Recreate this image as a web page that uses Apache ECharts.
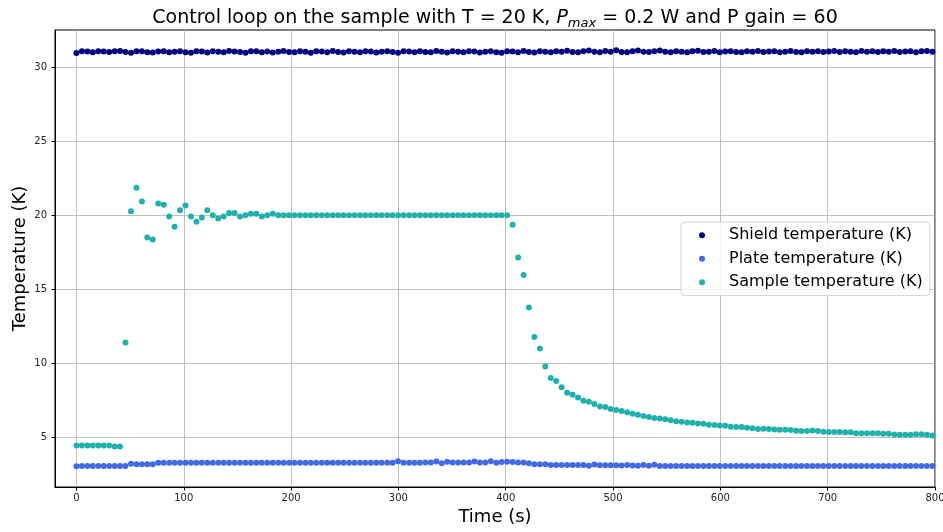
<!DOCTYPE html>
<html>
<head>
<meta charset="utf-8">
<script src="https://cdn.jsdelivr.net/npm/echarts@6/dist/echarts.min.js"></script>
<style>
html,body{margin:0;padding:0;background:#fff;}
#chart{width:943px;height:532px;}
</style>
</head>
<body>
<div id="chart"></div>
<script>
// ---- data ----
const times = [
  0, 5.1, 10.2, 15.2, 20.3, 25.4, 30.5, 35.6, 40.6, 45.7,
  50.8, 55.9, 61.0, 66.0, 71.1, 76.2, 81.3, 86.4, 91.4, 96.5,
  101.6, 106.7, 111.8, 116.8, 121.9, 127.0, 132.1, 137.2, 142.2, 147.3,
  152.4, 157.5, 162.6, 167.6, 172.7, 177.8, 182.9, 188.0, 193.0, 198.1,
  203.2, 208.3, 213.4, 218.4, 223.5, 228.6, 233.7, 238.8, 243.8, 248.9,
  254.0, 259.1, 264.2, 269.2, 274.3, 279.4, 284.5, 289.6, 294.6, 299.7,
  304.8, 309.9, 315.0, 320.0, 325.1, 330.2, 335.3, 340.4, 345.4, 350.5,
  355.6, 360.7, 365.8, 370.8, 375.9, 381.0, 386.1, 391.2, 396.2, 401.3,
  406.4, 411.5, 416.6, 421.6, 426.7, 431.8, 436.9, 442.0, 447.0, 452.1,
  457.2, 462.3, 467.4, 472.4, 477.5, 482.6, 487.7, 492.8, 497.8, 502.9,
  508.0, 513.1, 518.2, 523.2, 528.3, 533.4, 538.5, 543.6, 548.6, 553.7,
  558.8, 563.9, 569.0, 574.0, 579.1, 584.2, 589.3, 594.4, 599.4, 604.5,
  609.6, 614.7, 619.8, 624.8, 629.9, 635.0, 640.1, 645.2, 650.2, 655.3,
  660.4, 665.5, 670.6, 675.6, 680.7, 685.8, 690.9, 696.0, 701.0, 706.1,
  711.2, 716.3, 721.4, 726.4, 731.5, 736.6, 741.7, 746.8, 751.8, 756.9,
  762.0, 767.1, 772.2, 777.2, 782.3, 787.4, 792.5, 797.6
];

const shieldTemp = [
  30.95, 31.07, 31.05, 30.99, 31.07, 31.05, 31.01, 31.07, 31.08, 31.02,
  30.97, 31.07, 31.06, 31.00, 30.98, 31.05, 31.07, 30.99, 31.04, 31.07,
  31.00, 30.97, 31.06, 31.05, 30.98, 31.07, 31.03, 30.99, 31.08, 31.05,
  31.01, 30.97, 31.06, 31.07, 31.00, 31.05, 30.98, 31.04, 31.08, 31.02,
  30.99, 31.06, 31.03, 30.97, 31.07, 31.05, 31.00, 31.08, 31.02, 30.98,
  31.06, 31.04, 30.99, 31.07, 31.05, 30.98, 31.03, 31.07, 31.01, 30.97,
  31.06, 31.05, 30.99, 31.07, 31.02, 31.00, 31.08, 31.04, 30.98, 31.06,
  31.03, 30.99, 31.07, 31.05, 30.98, 31.04, 31.07, 31.00, 30.97, 31.06,
  31.05, 31.00, 31.08, 31.02, 30.98, 31.06, 31.04, 30.99, 31.07, 31.03,
  31.10, 31.01, 30.99, 31.06, 31.12, 31.03, 31.00, 31.08, 31.04, 31.13,
  31.02, 30.99, 31.07, 31.12, 31.03, 31.01, 31.06, 31.11, 31.04, 31.00,
  31.07, 31.03, 30.99, 31.06, 31.10, 31.02, 31.04, 31.08, 31.00, 31.05,
  31.07, 31.02, 30.99, 31.06, 31.04, 31.09, 31.01, 31.05, 31.07, 31.00,
  31.04, 31.08, 31.02, 30.99, 31.06, 31.03, 31.07, 31.01, 31.05, 31.09,
  31.02, 31.06, 31.04, 30.99, 31.08, 31.03, 31.06, 31.01, 31.07, 31.04,
  31.09, 31.02, 31.05, 31.07, 31.00, 31.06, 31.08, 31.03
];

const plateTemp = [
  3.05, 3.07, 3.07, 3.07, 3.07, 3.07, 3.07, 3.07, 3.07, 3.07,
  3.22, 3.19, 3.19, 3.19, 3.19, 3.29, 3.29, 3.29, 3.29, 3.29,
  3.29, 3.29, 3.29, 3.29, 3.29, 3.29, 3.29, 3.29, 3.29, 3.29,
  3.29, 3.29, 3.29, 3.29, 3.29, 3.29, 3.29, 3.29, 3.29, 3.29,
  3.29, 3.29, 3.29, 3.29, 3.29, 3.29, 3.29, 3.29, 3.29, 3.29,
  3.29, 3.29, 3.29, 3.29, 3.29, 3.29, 3.29, 3.29, 3.29, 3.39,
  3.29, 3.29, 3.29, 3.29, 3.30, 3.30, 3.37, 3.26, 3.36, 3.30,
  3.30, 3.30, 3.30, 3.37, 3.30, 3.30, 3.39, 3.29, 3.33, 3.36,
  3.33, 3.31, 3.31, 3.26, 3.19, 3.19, 3.19, 3.13, 3.13, 3.13,
  3.13, 3.13, 3.13, 3.13, 3.08, 3.17, 3.12, 3.12, 3.12, 3.12,
  3.10, 3.13, 3.10, 3.08, 3.13, 3.08, 3.16, 3.06, 3.06, 3.06,
  3.06, 3.06, 3.06, 3.06, 3.06, 3.06, 3.06, 3.06, 3.06, 3.06,
  3.06, 3.06, 3.06, 3.06, 3.06, 3.06, 3.06, 3.06, 3.06, 3.06,
  3.06, 3.06, 3.06, 3.06, 3.06, 3.06, 3.06, 3.06, 3.06, 3.06,
  3.06, 3.06, 3.06, 3.06, 3.06, 3.06, 3.06, 3.06, 3.06, 3.06,
  3.06, 3.06, 3.06, 3.06, 3.06, 3.06, 3.06, 3.06
];

const sampleTemp = [
  4.45, 4.45, 4.45, 4.45, 4.45, 4.45, 4.45, 4.38, 4.38, 11.4,
  20.27, 21.85, 20.92, 18.49, 18.36, 20.79, 20.70, 19.91, 19.21, 20.34,
  20.65, 19.91, 19.55, 19.84, 20.34, 20.00, 19.77, 19.91, 20.14, 20.14,
  19.91, 20.00, 20.09, 20.09, 19.91, 20.00, 20.09, 20.00, 20.00, 20.00,
  20.00, 20.00, 20.00, 20.00, 20.00, 20.00, 20.00, 20.00, 20.00, 20.00,
  20.00, 20.00, 20.00, 20.00, 20.00, 20.00, 20.00, 20.00, 20.00, 20.00,
  20.00, 20.00, 20.00, 20.00, 20.00, 20.00, 20.00, 20.00, 20.00, 20.00,
  20.00, 20.00, 20.00, 20.00, 20.00, 20.00, 20.00, 20.00, 20.00, 20.00,
  19.35, 17.15, 15.96, 13.76, 11.77, 11.00, 9.79, 9.00, 8.81, 8.38,
  8.02, 7.87, 7.69, 7.47, 7.40, 7.25, 7.09, 7.05, 6.91, 6.85,
  6.78, 6.69, 6.60, 6.53, 6.45, 6.38, 6.31, 6.27, 6.22, 6.15,
  6.09, 6.05, 6.01, 5.99, 5.94, 5.92, 5.86, 5.83, 5.81, 5.78,
  5.72, 5.70, 5.70, 5.65, 5.61, 5.57, 5.58, 5.56, 5.54, 5.52,
  5.52, 5.49, 5.45, 5.43, 5.43, 5.46, 5.43, 5.38, 5.36, 5.36,
  5.36, 5.34, 5.34, 5.28, 5.27, 5.27, 5.27, 5.27, 5.25, 5.25,
  5.19, 5.18, 5.18, 5.18, 5.21, 5.21, 5.17, 5.13
];

const seriesNames = ['Shield temperature (K)', 'Plate temperature (K)', 'Sample temperature (K)'];
const seriesColors = ['#000080', '#4169e1', '#20b2aa'];
const xTicks = [0, 100, 200, 300, 400, 500, 600, 700, 800];
const yTicks = [5, 10, 15, 20, 25, 30];

// ---- chart ----
const FONT = 'DejaVu Sans';
const pairs = vals => times.map((t, i) => [t, vals[i]]);
const allValues = [shieldTemp, plateTemp, sampleTemp];

const chart = echarts.init(document.getElementById('chart'), null, {renderer: 'canvas'});
chart.setOption({
  animation: false,
  backgroundColor: '#ffffff',
  textStyle: {fontFamily: FONT},
  graphic: [{
    type: 'text',
    x: 495,
    y: 7,
    style: {
      text: 'Control loop on the sample with T = 20 K, {i|P}{sub|max} = 0.2 W and P gain = 60',
      font: '19px "DejaVu Sans"',
      fill: '#000',
      align: 'center',
      verticalAlign: 'top',
      rich: {
        i: {fontSize: 19, fontStyle: 'italic', fontFamily: FONT, fill: '#000', lineHeight: 23},
        sub: {fontSize: 13, fontStyle: 'italic', fontFamily: FONT, fill: '#000', verticalAlign: 'bottom', padding: [8, 0, 0, 0]}
      }
    }
  }],
  grid: {
    left: 55, right: 8, top: 30, bottom: 45,
    outerBoundsMode: 'none',
    containLabel: false,
    show: true, borderColor: '#000', borderWidth: 1, backgroundColor: 'transparent'
  },
  legend: {
    orient: 'vertical',
    left: 681, top: 222,
    icon: 'circle',
    itemWidth: 6, itemHeight: 6,
    itemGap: 5,
    padding: [4, 7, 4, 18],
    backgroundColor: 'rgba(255,255,255,0.8)',
    borderColor: '#d6d6d6', borderWidth: 1, borderRadius: 4,
    textStyle: {fontFamily: FONT, fontSize: 16, color: '#000', lineHeight: 18.5, padding: [0, 0, 0, 19]},
    data: seriesNames
  },
  xAxis: {
    type: 'value', min: -20, max: 800,
    name: 'Time (s)', nameLocation: 'middle', nameGap: 21,
    nameMoveOverlap: false,
    nameTextStyle: {fontFamily: FONT, fontSize: 18, color: '#000'},
    axisLine: {show: true, onZero: false, lineStyle: {color: '#000', width: 1}},
    axisTick: {show: true, length: 3.5, lineStyle: {color: '#000'}, customValues: xTicks},
    axisLabel: {fontFamily: FONT, fontSize: 10, color: '#222', margin: 6, customValues: xTicks},
    splitLine: {show: true, lineStyle: {color: '#b0b0b0', width: 0.8}}
  },
  yAxis: {
    type: 'value', min: 1.65, max: 32.5,
    name: 'Temperature (K)', nameLocation: 'middle', nameGap: 26,
    nameMoveOverlap: false,
    nameTextStyle: {fontFamily: FONT, fontSize: 18, color: '#000'},
    axisLine: {show: true, onZero: false, lineStyle: {color: '#000', width: 1}},
    axisTick: {show: true, length: 3.5, lineStyle: {color: '#000'}, customValues: yTicks},
    axisLabel: {fontFamily: FONT, fontSize: 10, color: '#222', margin: 8, customValues: yTicks},
    splitLine: {show: true, lineStyle: {color: '#b0b0b0', width: 0.8}}
  },
  series: seriesNames.map((name, k) => ({
    name: name,
    type: 'scatter',
    symbol: 'circle',
    symbolSize: 6,
    itemStyle: {color: seriesColors[k], opacity: 1},
    data: pairs(allValues[k]),
    z: 2 + k
  }))
});
</script>
</body>
</html>
